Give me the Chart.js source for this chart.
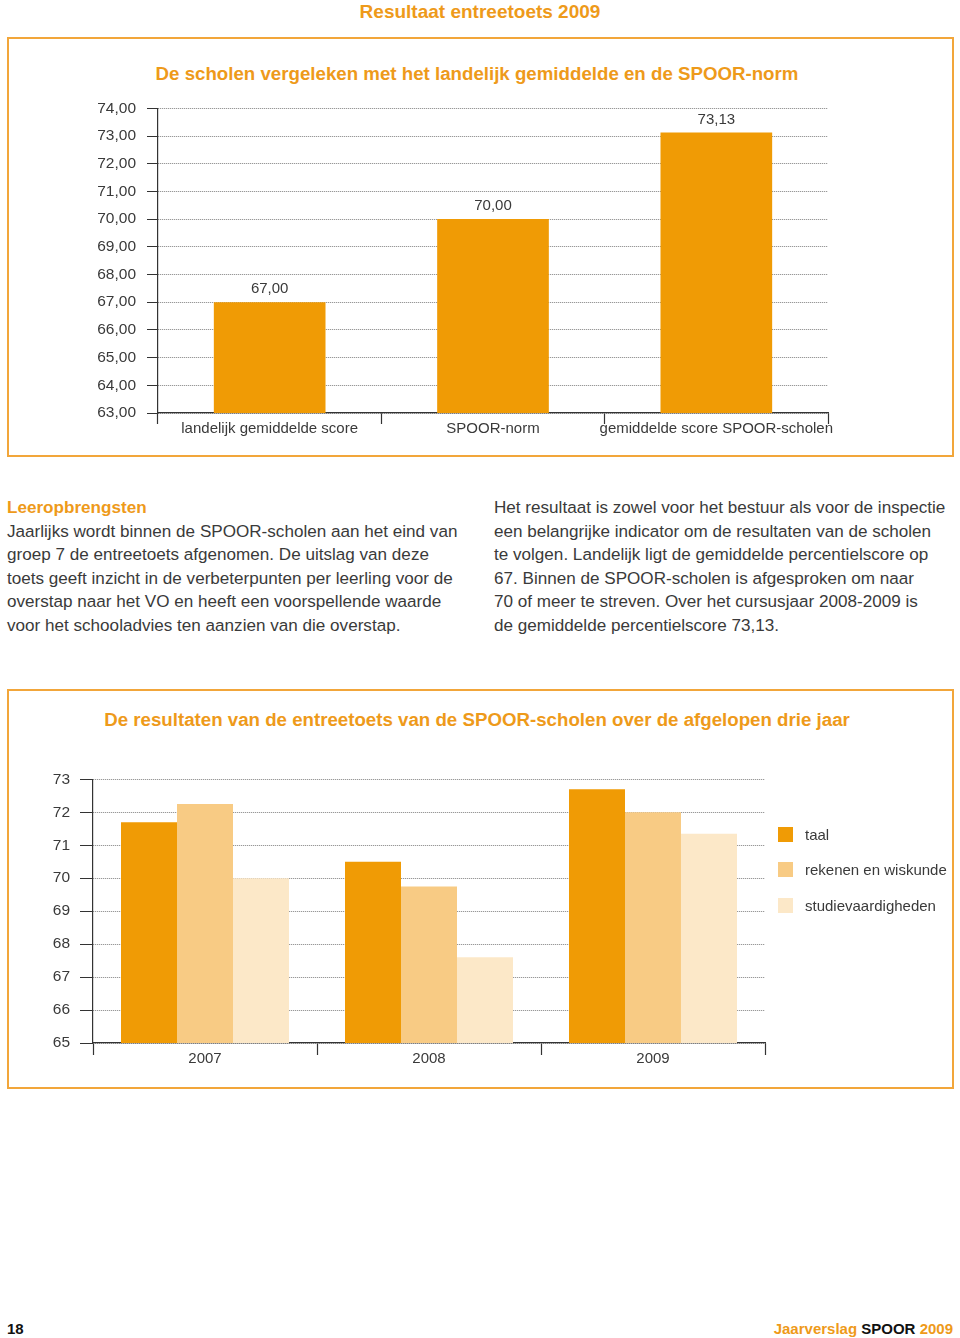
<!DOCTYPE html>
<html>
<head>
<meta charset="utf-8">
<script src="https://cdn.jsdelivr.net/npm/chart.js@4.4.1/dist/chart.umd.min.js"></script>
<style>
  body { margin: 0; background: #fff; font-family: "Liberation Sans", Arial, sans-serif; color: #333; }
  #page { position: relative; width: 960px; height: 1338px; overflow: hidden; }
  .abs { position: absolute; }
  .orange { color: #EE9A1A; }
  .title { font-weight: bold; font-size: 18.7px; white-space: nowrap; }
  .box { border: 2px solid #F2A63A; box-sizing: border-box; }
  .para { font-size: 17.1px; line-height: 23.6px; color: #3a3a3a; white-space: nowrap; }
  .legend div { position: absolute; font-size: 15px; color: #3a3a3a; white-space: nowrap; }
  .legend span { position: absolute; width: 15px; height: 15px; }
</style>
</head>
<body>
<div id="page">
  <div class="abs title orange" style="left:0;width:960px;text-align:center;top:1px;font-size:19px;">Resultaat entreetoets 2009</div>

  <div class="abs box" style="left:7px;top:37px;width:947px;height:420px;"></div>
  <div class="abs title orange" style="left:0;width:954px;text-align:center;top:63px;">De scholen vergeleken met het landelijk gemiddelde en de SPOOR-norm</div>
  <canvas id="chart1" class="abs" style="left:80px;top:88px;" width="770" height="355"></canvas>

  <div class="abs para" style="left:7px;top:496px;">
    <b class="orange">Leeropbrengsten</b><br>
    Jaarlijks wordt binnen de SPOOR-scholen aan het eind van<br>
    groep 7 de entreetoets afgenomen. De uitslag van deze<br>
    toets geeft inzicht in de verbeterpunten per leerling voor de<br>
    overstap naar het VO en heeft een voorspellende waarde<br>
    voor het schooladvies ten aanzien van die overstap.
  </div>
  <div class="abs para" style="left:494px;top:496px;">
    Het resultaat is zowel voor het bestuur als voor de inspectie<br>
    een belangrijke indicator om de resultaten van de scholen<br>
    te volgen. Landelijk ligt de gemiddelde percentielscore op<br>
    67. Binnen de SPOOR-scholen is afgesproken om naar<br>
    70 of meer te streven. Over het cursusjaar 2008-2009 is<br>
    de gemiddelde percentielscore 73,13.
  </div>

  <div class="abs box" style="left:7px;top:689px;width:947px;height:400px;"></div>
  <div class="abs title orange" style="left:0;width:954px;text-align:center;top:709px;">De resultaten van de entreetoets van de SPOOR-scholen over de afgelopen drie jaar</div>
  <canvas id="chart2" class="abs" style="left:30px;top:760px;" width="750" height="320"></canvas>
  <div id="legend" class="abs legend" style="left:0;top:0;"></div>

  <div class="abs" style="left:7px;top:1320px;font-size:15px;font-weight:bold;color:#111;">18</div>
  <div class="abs" style="right:7px;top:1320px;font-size:15px;font-weight:bold;white-space:nowrap;">
    <span class="orange">Jaarverslag</span> <span style="color:#111;">SPOOR</span> <span class="orange">2009</span>
  </div>
</div>

<script>
// top chart
const compareLabels = ['landelijk gemiddelde score', 'SPOOR-norm', 'gemiddelde score SPOOR-scholen'];
const compareValues = [67.00, 70.00, 73.13];

// bottom chart
const years = ['2007', '2008', '2009'];
const seriesNames = ['taal', 'rekenen en wiskunde', 'studievaardigheden'];
const taal = [71.7, 70.5, 72.7];
const rekenen = [72.25, 69.75, 72.0];
const studie = [70.0, 67.6, 71.35];

const colors = ['#F09B05', '#F8CB84', '#FCE8C8'];
const textColor = '#3a3a3a';
const gridColor = '#808080';
const axisColor = '#333';

Chart.defaults.font.family = '"Liberation Sans", Arial, sans-serif';
Chart.defaults.color = textColor;

function comma(v) {
    return v.toFixed(2).replace('.', ',');
}

const valueLabels = {
    id: 'valueLabels',
    afterDatasetsDraw(chart) {
        const ctx = chart.ctx;
        ctx.save();
        ctx.font = '15px "Liberation Sans", Arial, sans-serif';
        ctx.fillStyle = textColor;
        ctx.textAlign = 'center';
        ctx.textBaseline = 'middle';
        chart.getDatasetMeta(0).data.forEach((bar, i) => {
            ctx.fillText(comma(compareValues[i]), bar.x, bar.y - 13);
        });
        ctx.restore();
    }
};

new Chart(document.getElementById('chart1'), {
    type: 'bar',
    data: {
        labels: compareLabels,
        datasets: [{
            data: compareValues,
            backgroundColor: colors[0],
            barPercentage: 0.5,
            categoryPercentage: 1,
        }]
    },
    options: {
        responsive: false,
        animation: false,
        layout: { padding: { top: 15, right: 22, left: 0, bottom: 0 } },
        plugins: { legend: { display: false }, tooltip: { enabled: false } },
        scales: {
            x: {
                offset: true,
                grid: { offset: true, drawOnChartArea: false, tickLength: 11, tickColor: axisColor, tickWidth: 1.2 },
                border: { color: axisColor, width: 1.2 },
                ticks: { font: { size: 15 }, color: textColor, padding: -4, maxRotation: 0, autoSkip: false },
                afterFit: (s) => { s.height = 30; },
            },
            y: {
                min: 63, max: 74,
                grid: { color: gridColor, tickLength: 11, tickColor: axisColor, tickBorderDash: [] },
                border: { color: axisColor, width: 1.2, dash: [1, 1] },
                ticks: { stepSize: 1, font: { size: 15.5 }, color: textColor, padding: 11, callback: (v) => comma(v) },
                afterFit: (s) => { s.width = 78; },
            }
        }
    },
    plugins: [valueLabels]
});

new Chart(document.getElementById('chart2'), {
    type: 'bar',
    data: {
        labels: years,
        datasets: [
            { label: seriesNames[0], data: taal, backgroundColor: colors[0] },
            { label: seriesNames[1], data: rekenen, backgroundColor: colors[1] },
            { label: seriesNames[2], data: studie, backgroundColor: colors[2] },
        ]
    },
    options: {
        responsive: false,
        animation: false,
        datasets: { bar: { barPercentage: 1, categoryPercentage: 0.75 } },
        layout: { padding: { top: 14, right: 15, left: 0, bottom: 0 } },
        plugins: { legend: { display: false }, tooltip: { enabled: false } },
        scales: {
            x: {
                offset: true,
                grid: { offset: true, drawOnChartArea: false, tickLength: 12, tickColor: axisColor, tickWidth: 1.2 },
                border: { color: axisColor, width: 1.2 },
                ticks: { font: { size: 15 }, color: textColor, padding: -5, autoSkip: false },
                afterFit: (s) => { s.height = 37; },
            },
            y: {
                min: 65, max: 73,
                grid: { color: gridColor, tickLength: 13, tickColor: axisColor, tickBorderDash: [] },
                border: { color: axisColor, width: 1.2, dash: [1, 1] },
                ticks: { stepSize: 1, font: { size: 15.5 }, color: textColor, padding: 10 },
                afterFit: (s) => { s.width = 63; },
            }
        }
    }
});

// legend for the bottom chart
const legend = document.getElementById('legend');
const legendY = [835, 870, 906];
seriesNames.forEach((name, i) => {
    const sw = document.createElement('span');
    sw.style.left = '778px';
    sw.style.top = (legendY[i] - 8) + 'px';
    sw.style.background = colors[i];
    legend.appendChild(sw);
    const t = document.createElement('div');
    t.textContent = name;
    t.style.left = '805px';
    t.style.top = (legendY[i] - 9) + 'px';
    legend.appendChild(t);
});
</script>
</body>
</html>
